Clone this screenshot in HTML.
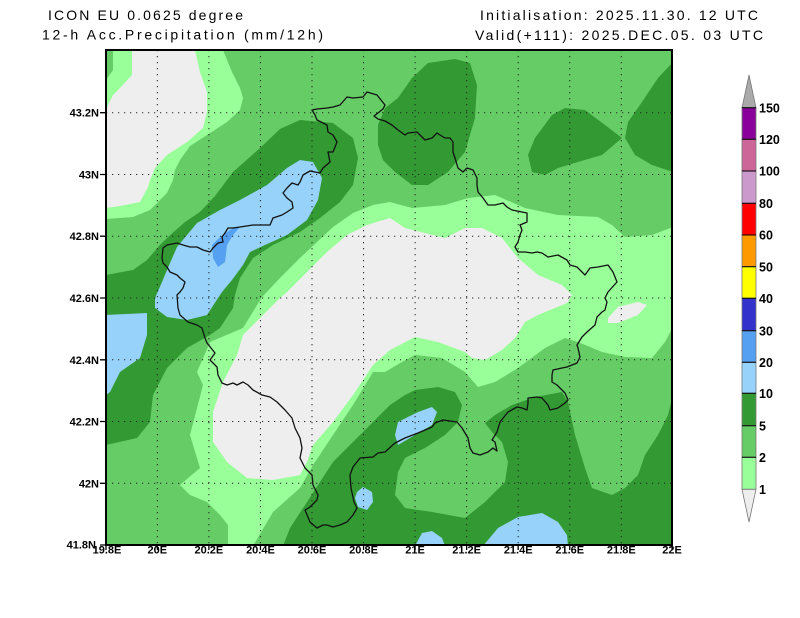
<!DOCTYPE html>
<html><head><meta charset="utf-8"><style>
html,body{margin:0;padding:0;background:#fff;}
svg{display:block;}
text{font-family:"Liberation Sans",sans-serif;fill:#000;}
.t{font-size:14px;}
.ax{font-size:11px;font-weight:bold;}
.cb{font-size:12.5px;font-weight:bold;}
</style></head><body>
<svg width="800" height="618" viewBox="0 0 800 618" xmlns="http://www.w3.org/2000/svg">
<defs><clipPath id="c"><rect x="106" y="50" width="566" height="495"/></clipPath></defs>
<text class="t" x="48" y="20" textLength="195" lengthAdjust="spacing">ICON EU 0.0625 degree</text>
<text class="t" x="42" y="39.5" textLength="281" lengthAdjust="spacing">12-h Acc.Precipitation (mm/12h)</text>
<text class="t" x="480" y="20" textLength="278" lengthAdjust="spacing">Initialisation: 2025.11.30. 12 UTC</text>
<text class="t" x="475" y="40" textLength="288" lengthAdjust="spacing">Valid(+111): 2025.DEC.05. 03 UTC</text>
<g clip-path="url(#c)">
<rect x="106" y="50" width="566" height="495" fill="#66cc66"/>
<polygon fill="#99ff99" points="113,50 223,50 232,72 240,88 243,98 240,110 227,122 207,135 190,146 180,160 175,170 173,180 167,193 150,210 133,217 106,219 106,80 113,70"/>
<polygon fill="#eeeeee" points="132,50 195,50 200,72 207,92 207,112 203,128 187,142 167,155 155,168 150,180 148,187 140,202 120,206 106,208 106,112 108,105 113,95 120,88 132,75"/>
<polygon fill="#99ff99" points="390,202 412,208 445,205 468,198 495,195 525,208 558,215 598,217 612,225 625,237 652,235 673,227 673,327 665,342 652,358 625,357 602,352 578,342 565,338 545,348 518,368 495,382 478,387 465,372 442,358 415,355 402,362 385,372 373,372 353,405 333,435 313,465 300,488 273,512 253,546 228,546 228,525 220,515 207,502 190,495 180,485 200,468 190,435 203,385 197,372 210,342 243,328 262,297 280,278 300,258 317,242 333,227 353,213 373,205"/>
<polygon fill="#eeeeee" points="280,298 287,292 307,272 327,252 347,235 367,225 390,218 405,228 445,238 465,228 482,228 502,238 518,258 538,275 562,285 572,295 567,303 538,315 525,322 515,338 502,350 485,360 472,358 465,352 438,342 415,337 390,350 373,365 353,395 333,422 313,445 307,462 300,475 273,480 247,478 227,462 213,442 213,412 223,382 237,355 243,335"/>
<polygon fill="#eeeeee" points="608,318 618,307 638,302 647,305 638,315 618,323 608,323"/>
<polygon fill="#339933" points="106,275 133,270 147,260 160,245 168,237 185,222 200,212 215,196 233,172 260,148 280,129 300,120 333,123 353,138 358,158 353,185 340,202 320,218 300,232 273,245 253,258 240,278 235,295 233,308 220,328 210,335 187,348 167,368 153,395 150,422 137,438 106,445"/>
<polygon fill="#339933" points="378,125 385,108 398,98 412,78 428,63 455,59 470,63 477,85 475,118 465,152 448,172 428,185 412,185 395,172 383,160 378,145"/>
<polygon fill="#339933" points="528,155 535,138 552,115 565,108 585,110 605,125 622,138 602,155 578,162 558,168 545,175 532,172"/>
<polygon fill="#339933" points="673,62 658,78 642,102 628,122 625,138 635,155 652,165 673,172"/>
<polygon fill="#339933" points="283,546 290,528 307,502 320,482 333,462 353,442 373,422 390,405 405,395 415,390 438,387 455,392 462,405 458,422 445,435 425,448 405,458 398,472 395,495 405,508 432,512 465,518 485,502 505,482 508,462 502,442 492,432 485,423 495,415 512,405 535,397 562,392 568,402 575,435 585,468 592,488 612,495 625,488 638,475 645,455 658,435 668,415 673,395 673,546"/>
<polygon fill="#96d2fa" points="300,160 313,162 322,178 318,200 307,220 287,235 265,245 250,252 243,265 232,280 222,292 218,298 207,315 187,320 167,317 155,308 155,298 162,282 167,270 177,247 197,223 220,210 240,200 267,185 287,168"/>
<polygon fill="#96d2fa" points="106,315 147,313 147,335 140,358 120,372 110,392 106,395"/>
<polygon fill="#96d2fa" points="398,422 418,412 432,407 437,412 432,425 415,435 398,445 395,435"/>
<polygon fill="#96d2fa" points="357,492 363,487 372,492 373,502 367,510 358,507 355,498"/>
<polygon fill="#96d2fa" points="415,546 422,533 432,531 442,538 445,546"/>
<polygon fill="#96d2fa" points="483,546 498,528 518,517 542,513 558,522 567,535 568,546"/>
<polygon fill="#55a0f0" points="240,227 233,235 227,245 225,262 218,267 213,258 212,245 220,237 233,228"/>
<polygon fill="none" stroke="#111" stroke-width="1.3" stroke-linejoin="round" points="163,248 167,245 177,243 183,245 190,247 197,247 203,250 210,252 213,248 218,243 223,242 222,237 225,233 228,228 233,228 240,227 253,225 270,225 273,218 282,215 287,212 293,208 292,202 287,198 283,193 287,188 292,183 298,185 300,182 303,175 310,171 320,173 323,168 330,162 328,152 333,152 337,142 333,135 328,132 327,125 317,120 315,115 312,110 317,109 327,108 333,107 340,105 347,97 353,98 363,97 367,92 377,95 385,105 383,109 378,113 374,116 378,119 385,121 392,125 398,130 405,135 408,133 417,132 425,140 432,138 437,133 440,135 445,138 450,138 453,142 453,152 455,158 458,168 463,172 467,168 473,170 477,178 477,185 478,192 483,198 488,205 495,205 503,203 507,207 512,210 522,212 527,213 527,222 520,225 522,230 520,235 518,242 515,247 518,252 525,252 532,253 537,252 542,253 548,257 558,255 567,260 570,265 577,267 582,272 585,275 590,268 598,267 608,265 613,272 617,282 608,292 605,298 607,302 605,310 602,312 597,317 595,325 587,332 582,337 577,345 578,348 580,357 577,363 572,365 567,367 562,368 553,370 552,375 552,382 557,385 560,388 565,393 568,400 565,403 558,408 550,410 548,405 542,398 537,397 528,398 528,403 527,410 522,408 517,407 508,412 500,422 497,432 492,440 495,442 497,451 493,448 488,452 480,455 473,453 470,448 468,438 462,428 457,422 443,420 435,423 432,427 418,433 405,438 395,443 385,452 378,453 373,457 360,458 353,467 350,475 351,488 354,502 357,508 353,515 347,522 340,525 333,527 327,525 323,525 317,528 310,522 305,510 310,507 317,500 318,495 313,485 312,475 305,468 300,458 302,448 300,438 295,428 292,418 285,410 277,402 270,397 262,395 253,390 248,385 243,382 237,385 233,383 227,385 222,383 218,375 217,367 210,360 215,353 207,343 205,338 202,328 197,325 188,322 180,315 178,308 177,295 180,292 183,288 185,282 180,278 177,275 170,272 167,267 163,263 162,258"/>
<g stroke="#222" stroke-width="1" stroke-dasharray="1.2 4.8" fill="none">
<path d="M157.35 50V545M208.9 50V545M260.45 50V545M312 50V545M363.55 50V545M415.1 50V545M466.65 50V545M518.2 50V545M569.75 50V545M621.3 50V545"/>
<path d="M106 112.7H672M106 174.5H672M106 236.2H672M106 298H672M106 359.8H672M106 421.5H672M106 483.3H672"/>
</g>
</g>
<rect x="106" y="50" width="566" height="495" fill="none" stroke="#000" stroke-width="2"/>
<g stroke="#000" stroke-width="1.3">
<path d="M100 112.7H106M100 174.5H106M100 236.2H106M100 298H106M100 359.8H106M100 421.5H106M100 483.3H106M100 545H106"/>
<path d="M106 545V550M157.35 545V550M208.9 545V550M260.45 545V550M312 545V550M363.55 545V550M415.1 545V550M466.65 545V550M518.2 545V550M569.75 545V550M621.3 545V550M672 545V550"/>
</g>
<g text-anchor="end">
<text class="ax" x="99" y="116.7">43.2N</text>
<text class="ax" x="99" y="178.5">43N</text>
<text class="ax" x="99" y="240.2">42.8N</text>
<text class="ax" x="99" y="302">42.6N</text>
<text class="ax" x="99" y="363.8">42.4N</text>
<text class="ax" x="99" y="425.5">42.2N</text>
<text class="ax" x="99" y="487.3">42N</text>
<text class="ax" x="96" y="548.5">41.8N</text>
</g>
<g text-anchor="middle">
<text class="ax" x="107" y="553.5">19.8E</text>
<text class="ax" x="157.35" y="553.5">20E</text>
<text class="ax" x="208.9" y="553.5">20.2E</text>
<text class="ax" x="260.45" y="553.5">20.4E</text>
<text class="ax" x="312" y="553.5">20.6E</text>
<text class="ax" x="363.55" y="553.5">20.8E</text>
<text class="ax" x="415.1" y="553.5">21E</text>
<text class="ax" x="466.65" y="553.5">21.2E</text>
<text class="ax" x="518.2" y="553.5">21.4E</text>
<text class="ax" x="569.75" y="553.5">21.6E</text>
<text class="ax" x="621.3" y="553.5">21.8E</text>
<text class="ax" x="672" y="553.5">22E</text>
</g>
<g stroke="#777" stroke-width="0.8">
<polygon points="749,75 742,107.7 756,107.7" fill="#aaaaaa"/>
<rect x="742" y="107.7" width="14" height="31.6" fill="#880099"/>
<rect x="742" y="139.3" width="14" height="31.7" fill="#cc6699"/>
<rect x="742" y="171" width="14" height="32.3" fill="#cc99cc"/>
<rect x="742" y="203.3" width="14" height="31.7" fill="#ff0000"/>
<rect x="742" y="235" width="14" height="31.7" fill="#ff9900"/>
<rect x="742" y="266.7" width="14" height="31.6" fill="#ffff00"/>
<rect x="742" y="298.3" width="14" height="32.4" fill="#3333cc"/>
<rect x="742" y="330.7" width="14" height="31.6" fill="#55a0f0"/>
<rect x="742" y="362.3" width="14" height="31" fill="#96d2fa"/>
<rect x="742" y="393.3" width="14" height="32.4" fill="#339933"/>
<rect x="742" y="425.7" width="14" height="31.6" fill="#66cc66"/>
<rect x="742" y="457.3" width="14" height="32" fill="#99ff99"/>
<polygon points="742,489.3 756,489.3 749,522" fill="#eeeeee"/>
</g>
<g stroke="#000" stroke-width="1">
<path d="M742 107.7H756M742 139.3H756M742 171H756M742 203.3H756M742 235H756M742 266.7H756M742 298.3H756M742 330.7H756M742 362.3H756M742 393.3H756M742 425.7H756M742 457.3H756"/>
</g>
<g>
<text class="cb" x="759" y="112.3">150</text>
<text class="cb" x="759" y="143.9">120</text>
<text class="cb" x="759" y="175.6">100</text>
<text class="cb" x="759" y="207.9">80</text>
<text class="cb" x="759" y="239.6">60</text>
<text class="cb" x="759" y="271.3">50</text>
<text class="cb" x="759" y="302.9">40</text>
<text class="cb" x="759" y="335.3">30</text>
<text class="cb" x="759" y="366.9">20</text>
<text class="cb" x="759" y="397.9">10</text>
<text class="cb" x="759" y="430.3">5</text>
<text class="cb" x="759" y="461.9">2</text>
<text class="cb" x="759" y="493.9">1</text>
</g>
</svg>
</body></html>
